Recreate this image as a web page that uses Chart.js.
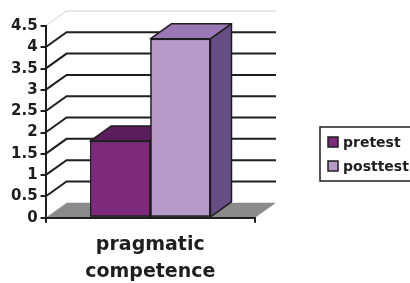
<!DOCTYPE html>
<html>
<head>
<meta charset="utf-8">
<script src="https://cdn.jsdelivr.net/npm/chart.js@4"></script>
<style>
  html, body { margin: 0; padding: 0; background: #fff; }
</style>
</head>
<body>
<canvas id="chart" width="410" height="283"></canvas>
<script>
const categories = [["pragmatic", "competence"]];
const seriesNames = ["pretest", "posttest"];
const pretest = [1.8];
const posttest = [4.2];
const yTicks = [0, 0.5, 1, 1.5, 2, 2.5, 3, 3.5, 4, 4.5];

// colours for the faces of each series (front, top, side)
const frontColors = ["#7d2a7c", "#b79ac8"];
const topColors = ["#5c1d5c", "#9a77b5"];
const sideColors = ["#5a1a5a", "#654f85"];
const depth = { x: 21, y: -15 };
const ink = "#1e1e1e";
const family = "'DejaVu Sans', sans-serif";

function face(ctx, pts, fill) {
    ctx.beginPath();
    ctx.moveTo(pts[0][0], pts[0][1]);
    pts.slice(1).forEach(p => ctx.lineTo(p[0], p[1]));
    ctx.closePath();
    ctx.fillStyle = fill;
    ctx.fill();
    ctx.stroke();
}

// fake 3D: back wall, floor, bar tops and sides, boxed legend
const depthPlugin = {
    id: "depth3d",
    beforeDraw(chart) {
        const { ctx, chartArea: a, scales: { y } } = chart;
        const y0 = y.getPixelForValue(0);
        ctx.save();
        ctx.fillStyle = "#8a8a8a";
        ctx.beginPath();
        ctx.moveTo(a.left, y0);
        ctx.lineTo(a.right, y0);
        ctx.lineTo(a.right + depth.x, y0 + depth.y);
        ctx.lineTo(a.left + depth.x, y0 + depth.y);
        ctx.closePath();
        ctx.fill();
        ctx.strokeStyle = "#d0d0d0";
        ctx.lineWidth = 1;
        ctx.beginPath();
        ctx.moveTo(a.left, y0);
        ctx.lineTo(a.left + depth.x, y0 + depth.y);
        ctx.stroke();

        yTicks.forEach((v, i) => {
            if (v === 0) return;
            const py = y.getPixelForValue(v);
            const last = i === yTicks.length - 1;
            ctx.strokeStyle = last ? "#cfcfcf" : ink;
            ctx.lineWidth = last ? 1 : 2;
            ctx.beginPath();
            ctx.moveTo(a.left, py);
            ctx.lineTo(a.left + depth.x, py + depth.y);
            ctx.lineTo(a.right + depth.x, py + depth.y);
            ctx.stroke();
        });
        ctx.restore();
    },
    afterDatasetsDraw(chart) {
        const { ctx } = chart;
        const bars = [];
        chart.data.datasets.forEach((ds, i) => {
            chart.getDatasetMeta(i).data.forEach(el => bars.push({ el, i }));
        });
        bars.sort((p, q) => p.el.x - q.el.x);
        ctx.save();
        ctx.strokeStyle = ink;
        ctx.lineWidth = 1.5;
        ctx.lineJoin = "round";
        bars.forEach(({ el, i }) => {
            el.draw(ctx);
            const { x, y, base, width } = el.getProps(["x", "y", "base", "width"], true);
            const l = x - width / 2, r = x + width / 2;
            face(ctx, [[l, y], [r, y], [r + depth.x, y + depth.y], [l + depth.x, y + depth.y]], topColors[i]);
            face(ctx, [[r, y], [r + depth.x, y + depth.y], [r + depth.x, base + depth.y], [r, base]], sideColors[i]);
        });
        ctx.restore();
    },
    afterDraw(chart) {
        const ctx = chart.ctx;
        const left = 320, top = 127, row = 24;
        ctx.save();
        ctx.strokeStyle = ink;
        ctx.lineWidth = 1.5;
        ctx.strokeRect(left, top, 120, row * chart.data.datasets.length + 6);
        ctx.font = "bold 14px " + family;
        ctx.textBaseline = "middle";
        chart.data.datasets.forEach((ds, i) => {
            const cy = top + 15 + i * row;
            ctx.fillStyle = ds.backgroundColor;
            ctx.fillRect(left + 8, cy - 5, 10, 10);
            ctx.lineWidth = 1.5;
            ctx.strokeRect(left + 8, cy - 5, 10, 10);
            ctx.fillStyle = ink;
            ctx.fillText(ds.label, left + 23, cy + 1);
        });
        ctx.restore();
    }
};

new Chart(document.getElementById("chart"), {
    type: "bar",
    data: {
        labels: categories,
        datasets: [
            { label: seriesNames[0], data: pretest, backgroundColor: frontColors[0] },
            { label: seriesNames[1], data: posttest, backgroundColor: frontColors[1] }
        ]
    },
    options: {
        responsive: false,
        animation: false,
        layout: { padding: { left: 8, top: 26, right: 155, bottom: -11 } },
        datasets: {
            bar: {
                borderColor: ink,
                borderWidth: 1.5,
                borderSkipped: false,
                barPercentage: 1,
                categoryPercentage: 0.575
            }
        },
        scales: {
            x: {
                grid: { drawOnChartArea: false, tickLength: 5, color: ink, lineWidth: 2 },
                border: { color: ink, width: 2 },
                ticks: {
                    color: ink,
                    maxRotation: 0,
                    padding: 9,
                    font: { family: family, size: 19, weight: "bold", lineHeight: 1.4 }
                }
            },
            y: {
                min: 0,
                max: 4.5,
                afterBuildTicks: s => { s.ticks = yTicks.map(v => ({ value: v })); },
                grid: { drawOnChartArea: false, tickLength: 5, color: ink, lineWidth: 2 },
                border: { color: ink, width: 2 },
                ticks: {
                    color: ink,
                    padding: 3,
                    autoSkip: false,
                    callback: v => String(v),
                    font: { family: family, size: 15, weight: "bold" }
                }
            }
        },
        plugins: {
            legend: { display: false },
            tooltip: { enabled: false }
        }
    },
    plugins: [depthPlugin]
});
</script>
</body>
</html>
